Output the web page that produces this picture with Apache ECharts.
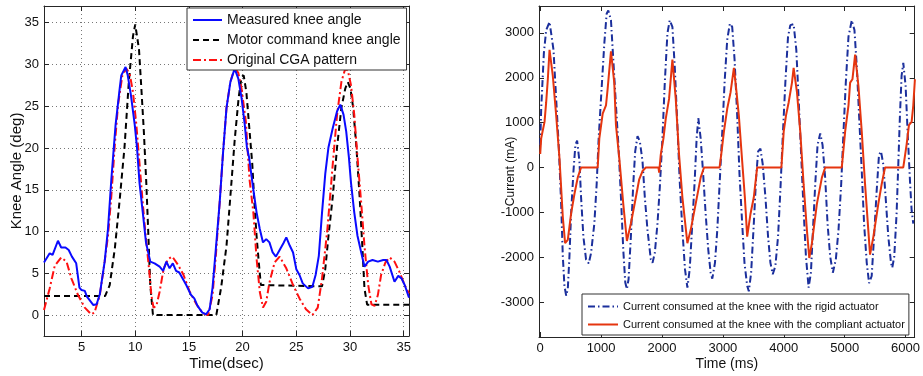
<!DOCTYPE html>
<html>
<head>
<meta charset="utf-8">
<script src="https://cdn.jsdelivr.net/npm/echarts@6/dist/echarts.min.js"></script>
<style>
html,body{margin:0;padding:0;background:#fff;}
#chart{width:923px;height:376px;}
</style>
</head>
<body>
<div id="chart"></div>
<script>
// ---------- Left chart data: knee angle (deg) vs time (dsec) ----------
const leftXTicks = [5, 10, 15, 20, 25, 30, 35];
const leftYTicks = [0, 5, 10, 15, 20, 25, 30, 35];
const measuredAngle = [
  [1.5,6.3],[2.03,7.4],[2.3,7.2],[2.8,8.9],[3.1,8.1],[3.5,8.1],[3.8,7.8],[4.1,7.0],[4.5,6.2],[4.8,3.3],
  [5.0,3.0],[5.3,2.9],[5.5,2.2],[5.8,1.7],[6.1,1.2],[6.4,1.3],[6.7,2.5],[7.15,6.4],[7.46,10.3],[7.77,16.2],
  [8.17,22.8],[8.55,27.1],[8.7,28.7],[9.1,29.7],[9.3,28.7],[9.6,26.3],[9.95,22.8],[10.16,20.1],[10.4,15.8],
  [10.7,12.3],[11.0,8.7],[11.4,6.4],[11.8,6.2],[12.27,5.8],[12.6,5.3],[12.9,6.4],[13.2,5.6],[13.5,6.2],
  [13.8,5.3],[14.1,5.1],[14.4,4.4],[14.75,3.6],[15.2,2.4],[15.5,2.0],[15.8,1.1],[16.25,0.3],[16.6,0.1],
  [16.93,0.7],[17.2,3.3],[17.5,7.8],[17.86,13.4],[18.17,19.3],[18.5,24.8],[18.86,27.9],[19.26,29.5],
  [19.6,28.3],[19.9,26.0],[20.2,22.8],[20.4,20.1],[20.6,18.9],[20.96,15.4],[21.3,12.3],[21.6,10.3],
  [21.9,8.7],[22.2,9.1],[22.5,8.7],[22.8,7.5],[23.1,7.0],[23.45,7.8],[23.8,8.6],[24.07,9.3],[24.4,8.3],
  [24.7,7.5],[25.0,5.5],[25.3,4.8],[25.6,3.8],[26.1,3.2],[26.5,3.4],[26.8,4.8],[27.1,7.1],[27.4,12.3],
  [27.7,16.9],[28.0,20.1],[28.4,22.4],[28.8,24.4],[29.1,25.2],[29.4,24.0],[29.65,22.0],[29.9,18.9],
  [30.1,15.8],[30.4,12.3],[30.7,9.5],[31.05,7.5],[31.35,5.8],[31.7,6.4],[32.1,6.6],[32.6,6.4],[33.1,6.6],
  [33.4,6.6],[33.7,5.8],[34.15,4.0],[34.5,4.7],[34.8,4.4],[35.1,3.6],[35.5,2.1]
];
const motorAngle = [
  [1.5,2.3],[7.2,2.3],[7.62,3.6],[8.1,8.0],[8.55,13.8],[9.0,20.1],[9.4,27.9],[9.79,33.4],[10.0,34.8],
  [10.35,31.8],[10.57,27.1],[10.8,22.0],[11.03,15.8],[11.2,10.3],[11.4,3.6],[11.65,0.0],[17.55,0.0],
  [18.0,3.3],[18.5,8.3],[18.86,14.2],[19.26,20.9],[19.63,26.0],[19.9,28.5],[20.1,28.7],[20.35,26.7],
  [20.6,22.8],[20.9,18.1],[21.1,13.4],[21.3,9.5],[21.5,6.4],[21.7,3.6],[21.85,3.45],[27.4,3.45],
  [27.7,5.5],[28.0,9.5],[28.4,14.2],[28.8,20.1],[29.2,24.8],[29.56,27.1],[29.8,27.9],[30.05,27.1],
  [30.3,24.8],[30.6,20.1],[30.9,14.2],[31.15,8.3],[31.35,3.2],[31.6,1.25],[35.5,1.25]
];
const cgaAngle = [
  [1.5,0.6],[2.03,3.2],[2.5,5.9],[3.1,6.9],[3.6,6.4],[4.05,4.4],[4.67,2.4],[5.3,0.9],[5.9,0.1],[6.2,0.3],
  [6.7,2.4],[7.15,6.4],[7.46,9.5],[7.77,14.2],[8.08,20.1],[8.4,25.2],[8.8,28.7],[9.17,29.5],[9.48,28.9],
  [9.79,26.7],[10.1,22.8],[10.4,18.1],[10.7,13.4],[10.97,9.5],[11.28,5.6],[11.5,2.4],[11.7,0.9],
  [11.97,1.1],[12.27,2.8],[12.65,5.6],[13.05,6.7],[13.45,7.0],[14.0,6.0],[14.5,4.8],[15.07,2.8],
  [15.7,1.3],[16.3,0.2],[16.8,0.0],[17.2,2.4],[17.5,7.0],[17.86,13.4],[18.17,19.3],[18.5,24.8],
  [18.86,27.9],[19.26,29.6],[19.6,29.0],[19.9,27.1],[20.3,23.2],[20.65,16.2],[21.0,12.3],[21.3,6.8],
  [21.6,2.8],[21.9,0.9],[22.2,1.6],[22.5,3.9],[22.98,6.3],[23.45,7.0],[24.07,5.6],[24.7,3.6],[25.3,2.0],
  [25.9,0.7],[26.5,0.0],[27.0,0.9],[27.4,4.4],[27.9,10.3],[28.4,18.1],[28.8,24.0],[29.2,27.9],[29.56,29.5],
  [29.8,29.3],[30.1,27.5],[30.4,24.0],[30.7,18.9],[31.05,13.4],[31.35,8.3],[31.7,3.6],[32.0,1.3],
  [32.3,1.1],[32.6,2.4],[32.9,4.8],[33.3,6.3],[33.7,6.9],[34.15,6.4],[34.6,5.2],[35.1,3.6],[35.5,2.6]
];

// ---------- Right chart data: current (mA) vs time (ms) ----------
const rightXTicks = [0, 1000, 2000, 3000, 4000, 5000, 6000];
const rightYTicks = [-3000, -2000, -1000, 0, 1000, 2000, 3000];
const rigidCurrent = [
  [0,500],[16,1308],[60,2551],[98,3063],[153,3246],[180,3209],[218,2624],[262,1528],[306,431],[344,-811],
  [371,-1981],[398,-2639],[426,-2858],[453,-2712],[480,-1981],[507,-1031],[546,-80],[578,504],[606,600],
  [644,139],[671,-665],[709,-1542],[753,-2054],[797,-2140],[835,-1908],[889,-1250],[927,-373],[960,650],
  [998,1528],[1053,2770],[1091,3428],[1118,3501],[1162,3282],[1200,2405],[1244,1382],[1287,431],
  [1326,-665],[1364,-1835],[1397,-2566],[1424,-2712],[1451,-2493],[1489,-1542],[1528,-373],[1560,358],
  [1598,700],[1637,577],[1680,139],[1718,-665],[1762,-1396],[1817,-2054],[1844,-2127],[1882,-1908],
  [1926,-1250],[1964,-446],[2007,650],[2046,1893],[2089,2990],[2127,3282],[2171,3136],[2209,2259],
  [2253,943],[2291,-300],[2335,-1396],[2378,-2273],[2417,-2680],[2455,-2273],[2498,-1250],[2537,-300],
  [2569,650],[2597,1100],[2635,650],[2673,-80],[2717,-1031],[2760,-1835],[2799,-2346],[2826,-2480],
  [2870,-2127],[2908,-1396],[2946,-373],[2990,797],[3028,1893],[3071,2844],[3115,3209],[3153,3136],
  [3192,2405],[3235,1162],[3273,-154],[3317,-1250],[3355,-2127],[3399,-2639],[3426,-2760],[3464,-2346],
  [3508,-1250],[3546,-227],[3579,358],[3617,420],[3655,66],[3699,-665],[3742,-1542],[3781,-2127],
  [3819,-2380],[3862,-2200],[3906,-1542],[3944,-519],[3982,650],[4026,1893],[4070,2917],[4108,3173],
  [4162,3195],[4206,2624],[4244,1528],[4288,212],[4326,-958],[4364,-1981],[4408,-2680],[4446,-2346],
  [4479,-1396],[4517,-373],[4555,504],[4599,760],[4637,504],[4680,-227],[4719,-1250],[4762,-1981],
  [4806,-2346],[4855,-2054],[4899,-1396],[4943,-373],[4981,797],[5019,1893],[5063,2917],[5117,3282],
  [5161,3063],[5199,2259],[5237,1162],[5281,-80],[5319,-1250],[5363,-2127],[5401,-2580],[5444,-2420],
  [5483,-1542],[5526,-519],[5564,285],[5597,358],[5635,66],[5673,-665],[5717,-1542],[5761,-2127],
  [5782,-2237],[5815,-1981],[5853,-1031],[5881,66],[5908,1162],[5935,2040],[5963,2332],[6001,1820],
  [6034,797],[6073,-300],[6100,-958],[6127,-1250]
];
const compliantCurrent = [
  [0,300],[16,650],[71,1016],[98,1455],[125,1966],[153,2624],[207,2040],[262,1162],[316,212],[371,-1104],
  [409,-1689],[453,-1615],[507,-1031],[562,-592],[616,-227],[671,0],[944,0],[971,650],[1026,1199],
  [1080,1382],[1107,1747],[1162,2588],[1216,1893],[1244,943],[1298,212],[1364,-811],[1424,-1640],
  [1489,-1250],[1571,-665],[1626,-263],[1680,-80],[1735,0],[1942,0],[1953,-117],[1980,285],[2024,650],
  [2062,1089],[2116,1528],[2171,2405],[2226,1528],[2280,285],[2335,-665],[2417,-1689],[2471,-1396],
  [2553,-811],[2635,-227],[2690,0],[2946,0],[2979,358],[3017,797],[3071,1308],[3126,1674],[3181,2222],
  [3219,1747],[3262,1162],[3317,139],[3361,-665],[3399,-1542],[3454,-1031],[3508,-665],[3563,0],
  [3961,0],[3999,797],[4037,1162],[4081,1455],[4135,1893],[4162,2222],[4217,1674],[4271,797],
  [4326,-373],[4380,-1396],[4419,-2018],[4462,-1689],[4544,-811],[4626,-227],[4680,0],[4953,0],
  [5008,797],[5063,1382],[5090,1893],[5128,1966],[5172,2515],[5226,1820],[5281,797],[5335,-373],
  [5417,-1944],[5472,-1542],[5553,-811],[5608,-373],[5663,0],[5963,0],[6017,504],[6056,943],
  [6100,1016],[6127,1382],[6154,1966]
];

const FONT = 'Liberation Sans, Arial, sans-serif';
const AXC = '#262626';

function valAxis(opts) {
  return {
    type: 'value',
    gridIndex: opts.grid,
    position: opts.position,
    min: opts.min, max: opts.max,
    name: opts.name || '',
    nameLocation: 'middle',
    nameGap: opts.nameGap || 0,
    nameMoveOverlap: false,
    nameTextStyle: {fontFamily: FONT, fontSize: opts.nameSize || 14, color: '#111'},
    axisLine: {show: true, onZero: false, lineStyle: {color: AXC, width: 1}},
    axisTick: {show: true, inside: true, length: 5, customValues: opts.ticks, lineStyle: {color: AXC}},
    axisLabel: {show: !!opts.labels, customValues: opts.ticks, margin: 5,
      fontFamily: FONT, fontSize: 13, color: '#111', formatter: v => String(v)},
    splitLine: {show: !!opts.split, lineStyle: {color: '#777', type: [1, 3], width: 1}}
  };
}

const option = {
  animation: false,
  backgroundColor: '#fff',
  grid: [
    {left: 44, top: 6, width: 365, height: 336, containLabel: false},
    {left: 539, top: 6, width: 378, height: 336, containLabel: false}
  ],
  xAxis: [
    valAxis({grid: 0, position: 'bottom', min: 1.5, max: 35.5, ticks: leftXTicks, labels: true, split: true, name: 'Time(dsec)', nameGap: 20, nameSize: 15}),
    valAxis({grid: 0, position: 'top', min: 1.5, max: 35.5, ticks: leftXTicks}),
    valAxis({grid: 1, position: 'bottom', min: -20, max: 6150, ticks: rightXTicks, labels: true, name: 'Time (ms)', nameGap: 20, nameSize: 14}),
    valAxis({grid: 1, position: 'top', min: -20, max: 6150, ticks: rightXTicks})
  ],
  yAxis: [
    valAxis({grid: 0, position: 'left', min: -2.5, max: 37, ticks: leftYTicks, labels: true, split: true, name: 'Knee Angle (deg)', nameGap: 20, nameSize: 15}),
    valAxis({grid: 0, position: 'right', min: -2.5, max: 37, ticks: leftYTicks}),
    valAxis({grid: 1, position: 'left', min: -3780, max: 3600, ticks: rightYTicks, labels: true, name: 'Current (mA)', nameGap: 22, nameSize: 12}),
    valAxis({grid: 1, position: 'right', min: -3780, max: 3600, ticks: rightYTicks})
  ],
  legend: [
    {
      data: ['Measured knee angle', 'Motor command knee angle', 'Original CGA pattern'],
      orient: 'vertical', left: 187, top: 8, itemWidth: 29, itemHeight: 14, itemGap: 6,
      padding: [5, 6, 3, 5], borderColor: '#333', borderWidth: 1, backgroundColor: '#fff',
      textStyle: {fontFamily: FONT, fontSize: 14, color: '#111'},
      itemStyle: {opacity: 0}, selectedMode: false
    },
    {
      data: ['Current consumed at the knee with the rigid actuator', 'Current consumed at the knee with the compliant actuator'],
      orient: 'vertical', left: 582, top: 294, itemWidth: 30, itemHeight: 12, itemGap: 7,
      padding: [7, 4, 5, 5], borderColor: '#333', borderWidth: 1, backgroundColor: '#fff',
      textStyle: {fontFamily: FONT, fontSize: 11, color: '#111'},
      itemStyle: {opacity: 0}, selectedMode: false
    }
  ],
  series: [
    {name: 'Measured knee angle', type: 'line', xAxisIndex: 0, yAxisIndex: 0, data: measuredAngle,
      symbol: 'none', lineStyle: {color: '#0a0aff', width: 2}, itemStyle: {color: '#0a0aff'}, z: 3},
    {name: 'Motor command knee angle', type: 'line', xAxisIndex: 0, yAxisIndex: 0, data: motorAngle,
      symbol: 'none', lineStyle: {color: '#000', width: 2, type: [6, 4]}, itemStyle: {color: '#000'}, z: 2},
    {name: 'Original CGA pattern', type: 'line', xAxisIndex: 0, yAxisIndex: 0, data: cgaAngle,
      symbol: 'none', lineStyle: {color: '#ff1010', width: 2, type: [8, 3, 2, 3]}, itemStyle: {color: '#ff1010'}, z: 2},
    {name: 'Current consumed at the knee with the rigid actuator', type: 'line', xAxisIndex: 2, yAxisIndex: 2, data: rigidCurrent,
      symbol: 'none', lineStyle: {color: '#1b2f9c', width: 2, type: [7, 3, 1.5, 3]}, itemStyle: {color: '#1b2f9c'}, z: 2},
    {name: 'Current consumed at the knee with the compliant actuator', type: 'line', xAxisIndex: 2, yAxisIndex: 2, data: compliantCurrent,
      symbol: 'none', lineStyle: {color: '#e5350f', width: 2}, itemStyle: {color: '#e5350f'}, z: 3}
  ]
};

const chart = echarts.init(document.getElementById('chart'), null, {renderer: 'canvas'});
chart.setOption(option);
</script>
</body>
</html>
